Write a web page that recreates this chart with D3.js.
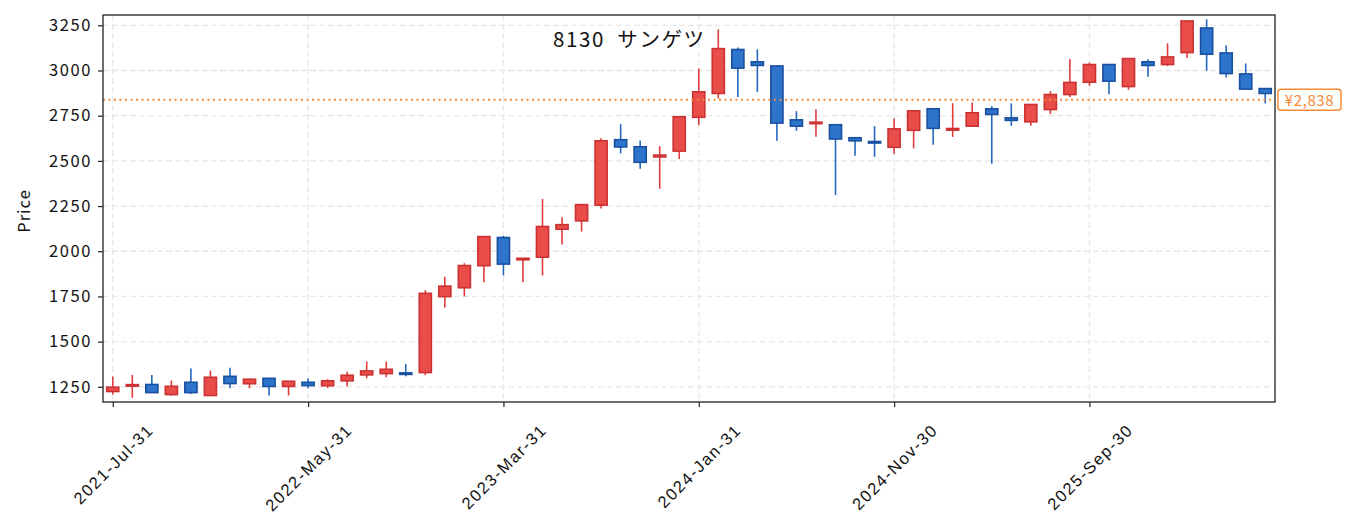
<!DOCTYPE html>
<html>
<head>
<meta charset="utf-8">
<script src="https://cdn.jsdelivr.net/npm/d3@7"></script>
<style>
  body { margin:0; padding:0; background:#fff; }
  svg { display:block; font-family:"Noto Sans CJK JP","Noto Sans",sans-serif; }
  .grid line { stroke:#e8e8e8; stroke-width:1.3; stroke-dasharray:6,3; }
  text { white-space:pre; }
</style>
</head>
<body>
<div id="chart"></div>
<script>
// monthly OHLC, 2021-07 .. 2026-06
var open  = [1224,1255,1263,1207,1275,1202,1308,1267,1297,1252,1275,1256,1283,1316,1323,1327,1329,1749,1798,1920,
             2076,1955,1967,2122,2168,2255,2617,2578,2522,2554,2741,2873,3116,3048,3025,2727,2708,2700,2628,2607,
             2575,2669,2788,2670,2692,2788,2738,2716,2784,2867,2935,3033,2911,3048,3033,3099,3235,3097,2981,2900];
var high  = [1307,1316,1316,1285,1351,1340,1356,1293,1298,1282,1296,1292,1333,1390,1390,1377,1785,1859,1934,2082,
             2085,1963,2290,2188,2259,2625,2703,2613,2582,2745,3011,3228,3127,3117,3026,2775,2786,2701,2629,2692,
             2735,2778,2789,2819,2823,2803,2818,2815,2886,3064,3044,3034,3067,3062,3150,3275,3283,3140,3039,2901];
var low   = [1207,1189,1216,1200,1210,1198,1242,1242,1202,1202,1242,1243,1253,1297,1303,1308,1314,1689,1750,1828,
             1866,1828,1866,2037,2109,2236,2542,2457,2346,2510,2698,2845,2854,2882,2611,2666,2633,2311,2528,2522,
             2540,2569,2589,2633,2692,2484,2694,2694,2759,2854,2915,2869,2893,2965,3025,3069,2998,2961,2897,2818];
var close = [1248,1262,1218,1253,1218,1303,1268,1292,1252,1281,1257,1283,1314,1338,1347,1320,1767,1807,1921,2081,
             1929,1961,2137,2147,2258,2611,2577,2492,2532,2744,2882,3121,3013,3028,2709,2692,2714,2621,2611,2600,
             2677,2777,2680,2679,2766,2757,2724,2812,2867,2934,3033,2941,3066,3028,3075,3274,3090,2983,2897,2873];

var tickIndex  = [0, 10, 20, 30, 40, 50];
var tickLabels = ["2021-Jul-31", "2022-May-31", "2023-Mar-31", "2024-Jan-31", "2024-Nov-30", "2025-Sep-30"];
var yTicks = [1250, 1500, 1750, 2000, 2250, 2500, 2750, 3000, 3250];
var lastPrice = 2838;
var title = "8130  サンゲツ";

var W = 1353, H = 531;
var m = {left:103, right:78, top:15, bottom:129};
var iw = W - m.left - m.right, ih = H - m.top - m.bottom;
var FS = 16.5, LS = 1.6;

var svg = d3.select("#chart").append("svg").attr("width", W).attr("height", H);
var g = svg.append("g").attr("transform", "translate(" + m.left + "," + m.top + ")");

var n = open.length;
var x = d3.scaleLinear().domain([-0.5, n - 0.5]).range([0, iw]);
var y = d3.scaleLinear().domain([1166, 3307]).range([ih, 0]);
var bw = (x(1) - x(0)) * 0.62;

// grid
g.append("g").attr("class", "grid")
  .selectAll("line.h").data(yTicks).enter().append("line")
  .attr("x1", 0).attr("x2", iw).attr("y1", d => y(d)).attr("y2", d => y(d));
g.append("g").attr("class", "grid")
  .selectAll("line.v").data(tickIndex).enter().append("line")
  .attr("y1", 0).attr("y2", ih).attr("x1", d => x(d)).attr("x2", d => x(d));

// candles
var idx = d3.range(n);
var up = i => close[i] >= open[i];
var cg = g.append("g");
cg.selectAll("line.wick").data(idx).enter().append("line")
  .attr("x1", i => x(i)).attr("x2", i => x(i))
  .attr("y1", i => y(high[i])).attr("y2", i => y(low[i]))
  .attr("stroke", i => up(i) ? "#e23c3c" : "#2468c0")
  .attr("stroke-width", 1.6);
cg.selectAll("rect").data(idx).enter().append("rect")
  .attr("x", i => x(i) - bw / 2)
  .attr("width", bw)
  .attr("y", i => y(Math.max(open[i], close[i])))
  .attr("height", i => Math.max(1.5, Math.abs(y(open[i]) - y(close[i]))))
  .attr("fill", i => up(i) ? "#e84d4a" : "#2c74cc")
  .attr("stroke", i => up(i) ? "#cc3232" : "#1a4fa0")
  .attr("stroke-width", 1.6);

// last price line
g.append("line")
  .attr("x1", 0).attr("x2", iw).attr("y1", y(lastPrice)).attr("y2", y(lastPrice))
  .attr("stroke", "#f58a36").attr("stroke-width", 1.8).attr("stroke-dasharray", "2,3.5");

// axes
var yAxis = d3.axisLeft(y).tickValues(yTicks).tickSize(5).tickPadding(6).tickFormat(d3.format("d"));
var ya = g.append("g").call(yAxis);
ya.select(".domain").remove();
ya.selectAll("line").attr("stroke", "#222").attr("stroke-width", 1.2);
ya.selectAll("text").attr("font-size", FS).attr("fill", "#111").attr("letter-spacing", LS)
  .attr("font-family", '"Noto Sans CJK JP",sans-serif');

var xAxis = d3.axisBottom(x).tickValues(tickIndex).tickSize(5).tickFormat("");
var xa = g.append("g").attr("transform", "translate(0," + ih + ")").call(xAxis);
xa.select(".domain").remove();
xa.selectAll("line").attr("stroke", "#222").attr("stroke-width", 1.2);

// rotated x labels, centered on tick
xa.selectAll("g.tick").each(function (d, k) {
  var t = d3.select(this).append("text")
    .attr("font-size", FS).attr("fill", "#111").attr("letter-spacing", LS)
    .attr("text-anchor", "middle").attr("dominant-baseline", "central")
    .text(tickLabels[k]);
  var len = t.node().getComputedTextLength();
  var half = (len + FS) * Math.SQRT1_2 / 2;
  t.attr("transform", "translate(0," + (19 + half) + ") rotate(-45)");
});

// frame
g.append("rect").attr("width", iw).attr("height", ih)
  .attr("fill", "none").attr("stroke", "#222").attr("stroke-width", 1.3);

// title
g.append("text").attr("x", 553 - m.left).attr("y", 47 - m.top)
  .attr("font-size", 20.5).attr("letter-spacing", 1.6).attr("fill", "#111").text(title);

// y label
svg.append("text").attr("transform", "translate(30,211) rotate(-90)")
  .attr("text-anchor", "middle").attr("font-size", FS).attr("letter-spacing", 1).attr("fill", "#111").text("Price");

// price tag
var ty = m.top + y(lastPrice);
var tag = svg.append("g").attr("transform", "translate(" + (W - m.right + 3) + "," + ty + ")");
tag.append("rect").attr("x", 0).attr("y", -10.5).attr("width", 63).attr("height", 21).attr("rx", 3)
  .attr("fill", "#fff").attr("stroke", "#f58a36").attr("stroke-width", 1.5);
tag.append("text").attr("x", 31.5).attr("y", 0).attr("text-anchor", "middle")
  .attr("dominant-baseline", "central").attr("font-size", 15).attr("letter-spacing", 0.6).attr("fill", "#f58a36")
  .text("¥" + d3.format(",")(lastPrice));
</script>
</body>
</html>
